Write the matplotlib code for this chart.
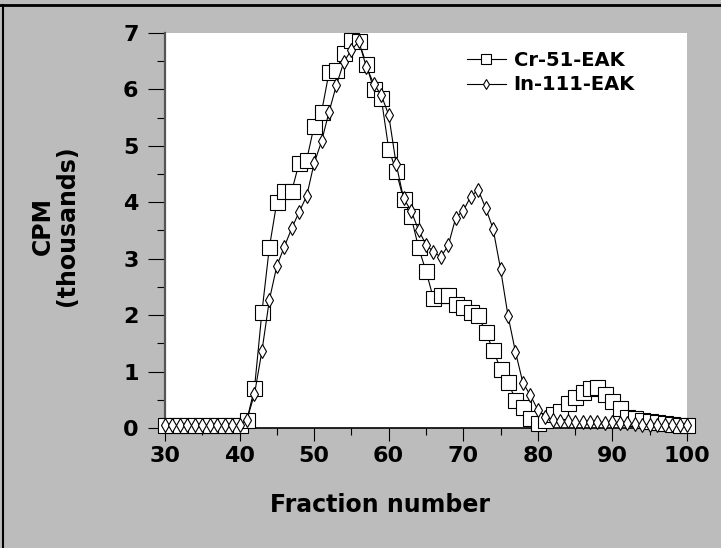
import matplotlib
matplotlib.use("Agg")
import matplotlib.pyplot as plt
from matplotlib.lines import Line2D
from matplotlib.ticker import MultipleLocator

fractions = list(range(30, 101))

cr51 = [0.05, 0.05, 0.05, 0.05, 0.05, 0.05, 0.05, 0.05, 0.05, 0.05, 0.05,
        0.15, 0.7, 2.05, 3.2, 4.0, 4.2, 4.2, 4.7, 4.75, 5.35,
        5.6, 6.3, 6.35, 6.65, 6.88, 6.85, 6.45, 6.0, 5.85, 4.95,
        4.55, 4.05, 3.75, 3.2, 2.78, 2.3, 2.35, 2.35, 2.2, 2.15,
        2.05, 2.0, 1.7, 1.38, 1.05, 0.82, 0.5, 0.38, 0.18, 0.08,
        0.15, 0.25, 0.3, 0.45, 0.55, 0.63, 0.7, 0.72, 0.6, 0.47,
        0.35, 0.2, 0.17, 0.14, 0.12, 0.1, 0.08, 0.07, 0.06, 0.05]

in111 = [0.05, 0.05, 0.05, 0.05, 0.05, 0.05, 0.05, 0.05, 0.05, 0.05, 0.05,
         0.15, 0.6, 1.36, 2.27, 2.87, 3.21, 3.54, 3.83, 4.11, 4.69,
         5.08, 5.6, 6.08, 6.49, 6.7, 6.85, 6.4, 6.1, 5.9, 5.55,
         4.68, 4.07, 3.85, 3.51, 3.25, 3.12, 3.03, 3.24, 3.73, 3.85,
         4.1, 4.22, 3.9, 3.53, 2.82, 1.99, 1.35, 0.8, 0.58, 0.32,
         0.2, 0.15, 0.12, 0.12, 0.1, 0.1, 0.1, 0.1, 0.08, 0.1,
         0.08, 0.08, 0.07, 0.06, 0.06, 0.05, 0.05, 0.05, 0.05, 0.05]

x_ticks = [30, 40, 50, 60, 70, 80, 90, 100]
y_ticks = [0, 1, 2, 3, 4, 5, 6, 7]

FONT = "DejaVu Sans"
GRAY = "#bcbcbc"

fig = plt.figure(figsize=(7.21, 5.48), dpi=100, facecolor=GRAY)
ax = fig.add_axes([0.2288, 0.219, 0.724, 0.7208])
ax.set_facecolor("white")

ax.plot(fractions, cr51, color="black", lw=0.8, marker="s", ms=10.8,
        mfc="white", mec="black", mew=0.8, clip_on=False, label="Cr-51-EAK", zorder=3)
ax.plot(fractions, in111, color="black", lw=0.8, marker="d", ms=7.2,
        mfc="white", mec="black", mew=0.8, clip_on=False, label="In-111-EAK", zorder=4)

ax.set_xlim(30, 100)
ax.set_ylim(0, 7)
ax.set_xticks(x_ticks)
ax.set_yticks(y_ticks)
ax.xaxis.set_minor_locator(MultipleLocator(5))
ax.yaxis.set_minor_locator(MultipleLocator(0.5))

for s in ["top", "right"]:
    ax.spines[s].set_visible(False)
ax.spines["left"].set_linewidth(1.6)
ax.spines["left"].set_color("#555555")
ax.spines["bottom"].set_linewidth(1.2)

ax.tick_params(axis="y", which="major", direction="out", length=12, width=0.8, pad=7)
ax.tick_params(axis="y", which="minor", direction="out", length=6, width=0.8)
ax.tick_params(axis="x", which="major", direction="out", length=9, width=0.8, pad=4)
ax.tick_params(axis="x", which="minor", direction="out", length=5, width=0.8)

for lab in ax.get_xticklabels() + ax.get_yticklabels():
    lab.set_fontfamily(FONT)
    lab.set_fontweight("bold")
    lab.set_fontsize(16)

fig.text(380 / 721, 1 - 505 / 548, "Fraction number", ha="center", va="center",
         fontsize=17, fontweight="bold", family=FONT)
fig.text(55 / 721, 1 - 226 / 548, "CPM\n(thousands)", ha="center", va="center",
         rotation=90, fontsize=17, fontweight="bold", family=FONT, linespacing=1.0)

ax.legend(loc="upper left", bbox_to_anchor=(0.56, 0.98), frameon=False,
          borderpad=0, handlelength=2.0, handletextpad=0.4, labelspacing=0.3,
          markerscale=0.7, prop={"family": FONT, "weight": "bold", "size": 14})

# scan frame edges
fig.add_artist(Line2D([0, 1], [0.991, 0.991], transform=fig.transFigure, color="black", lw=2))
fig.add_artist(Line2D([0.004, 0.004], [0, 0.991], transform=fig.transFigure, color="black", lw=1.5))

fig.savefig("out.png", dpi=100, facecolor=GRAY)
